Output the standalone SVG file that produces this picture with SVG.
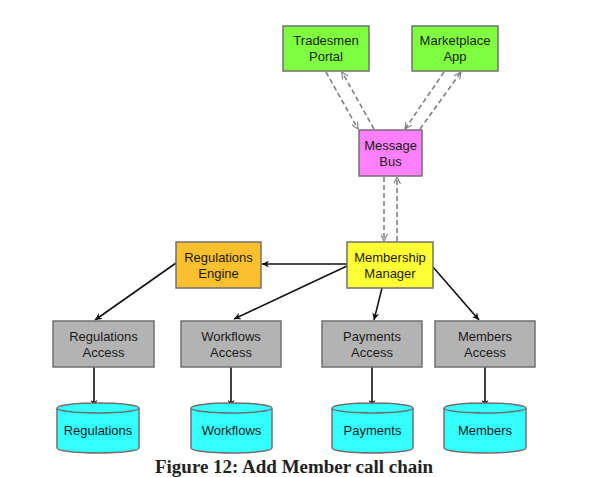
<svg xmlns="http://www.w3.org/2000/svg" width="611" height="477" viewBox="0 0 611 477">
<style>
.box{stroke:#707070;stroke-width:1.5}
.t{font-family:"Liberation Sans",Arial,sans-serif;font-size:13px;fill:#1a1a1a;text-anchor:middle}
.solid{stroke:#111;stroke-width:1.6;fill:none}
.dash{stroke:#808080;stroke-width:1.6;fill:none;stroke-dasharray:5,3}
.cap{font-family:"Liberation Serif","Times New Roman",serif;font-size:18.5px;font-weight:bold;fill:#222;text-anchor:middle}
</style>
<defs>
<marker id="ah" viewBox="0 0 10 10" refX="10" refY="5" markerWidth="7" markerHeight="7" orient="auto" markerUnits="userSpaceOnUse">
<path d="M0,0 L10,5 L0,10 L3,5 z" fill="#111"/>
</marker>
<marker id="ahd" viewBox="0 0 10 10" refX="10" refY="5" markerWidth="7" markerHeight="7" orient="auto" markerUnits="userSpaceOnUse">
<path d="M0,0 L10,5 L0,10" fill="none" stroke="#808080" stroke-width="1.6"/>
</marker>
</defs>
<rect width="611" height="477" fill="#fff"/>
<g id="connectors">
<line class="dash" x1="326" y1="72" x2="358" y2="129" marker-end="url(#ahd)"/>
<line class="dash" x1="374" y1="129" x2="342" y2="72" marker-end="url(#ahd)"/>
<line class="dash" x1="444" y1="72" x2="405" y2="129" marker-end="url(#ahd)"/>
<line class="dash" x1="420" y1="129" x2="461" y2="72" marker-end="url(#ahd)"/>
<line class="dash" x1="384" y1="177" x2="384" y2="241" marker-end="url(#ahd)"/>
<line class="dash" x1="397" y1="241" x2="397" y2="177" marker-end="url(#ahd)"/>
<line class="solid" x1="347" y1="264" x2="262" y2="264" marker-end="url(#ah)"/>
<line class="solid" x1="176" y1="263" x2="95" y2="320" marker-end="url(#ah)"/>
<line class="solid" x1="347" y1="266" x2="234" y2="319" marker-end="url(#ah)"/>
<line class="solid" x1="382" y1="288" x2="374" y2="320" marker-end="url(#ah)"/>
<line class="solid" x1="433" y1="267" x2="479" y2="320" marker-end="url(#ah)"/>
<line class="solid" x1="94" y1="367" x2="94" y2="407" marker-end="url(#ah)"/>
<line class="solid" x1="231" y1="367" x2="231" y2="407" marker-end="url(#ah)"/>
<line class="solid" x1="372" y1="367" x2="372" y2="407" marker-end="url(#ah)"/>
<line class="solid" x1="485" y1="367" x2="485" y2="407" marker-end="url(#ah)"/>
</g>
<g id="tradesmen-portal">
<rect class="box" x="283" y="26" width="86" height="45" fill="#80ff40"/>
<text class="t" x="326" y="45">Tradesmen</text><text class="t" x="326" y="61">Portal</text>
</g>
<g id="marketplace-app">
<rect class="box" x="412" y="26" width="86" height="45" fill="#80ff40"/>
<text class="t" x="455" y="45">Marketplace</text><text class="t" x="455" y="61">App</text>
</g>
<g id="message-bus">
<rect class="box" x="359" y="130" width="63" height="46" fill="#ff80ff"/>
<text class="t" x="390.5" y="150">Message</text><text class="t" x="390.5" y="166">Bus</text>
</g>
<g id="membership-manager">
<rect class="box" x="347" y="242" width="86" height="46" fill="#ffff33"/>
<text class="t" x="390" y="262">Membership</text><text class="t" x="390" y="278">Manager</text>
</g>
<g id="regulations-engine">
<rect class="box" x="176" y="242" width="85" height="46" fill="#fbc02d"/>
<text class="t" x="218.5" y="262">Regulations</text><text class="t" x="218.5" y="278">Engine</text>
</g>
<g id="regulations-access">
<rect class="box" x="53" y="321" width="101" height="46" fill="#b3b3b3"/>
<text class="t" x="103.5" y="341">Regulations</text><text class="t" x="103.5" y="357">Access</text>
</g>
<g id="workflows-access">
<rect class="box" x="181" y="321" width="100" height="46" fill="#b3b3b3"/>
<text class="t" x="231" y="341">Workflows</text><text class="t" x="231" y="357">Access</text>
</g>
<g id="payments-access">
<rect class="box" x="322" y="321" width="100" height="46" fill="#b3b3b3"/>
<text class="t" x="372" y="341">Payments</text><text class="t" x="372" y="357">Access</text>
</g>
<g id="members-access">
<rect class="box" x="435" y="321" width="100" height="46" fill="#b3b3b3"/>
<text class="t" x="485" y="341">Members</text><text class="t" x="485" y="357">Access</text>
</g>
<g id="regulations-db">
<path class="box" d="M57,408 A41,5 0 0 1 139,408 V448 A41,5 0 0 1 57,448 Z" fill="#33ffff"/>
<path class="box" d="M57,408 A41,5 0 0 0 139,408" fill="none"/>
<text class="t" x="98" y="435">Regulations</text>
</g>
<g id="workflows-db">
<path class="box" d="M191,408 A40.5,5 0 0 1 272,408 V448 A40.5,5 0 0 1 191,448 Z" fill="#33ffff"/>
<path class="box" d="M191,408 A40.5,5 0 0 0 272,408" fill="none"/>
<text class="t" x="231.5" y="435">Workflows</text>
</g>
<g id="payments-db">
<path class="box" d="M332,408 A40.5,5 0 0 1 413,408 V448 A40.5,5 0 0 1 332,448 Z" fill="#33ffff"/>
<path class="box" d="M332,408 A40.5,5 0 0 0 413,408" fill="none"/>
<text class="t" x="372.5" y="435">Payments</text>
</g>
<g id="members-db">
<path class="box" d="M444,408 A41,5 0 0 1 526,408 V448 A41,5 0 0 1 444,448 Z" fill="#33ffff"/>
<path class="box" d="M444,408 A41,5 0 0 0 526,408" fill="none"/>
<text class="t" x="485" y="435">Members</text>
</g>
<text class="cap" x="294" y="473" textLength="278" lengthAdjust="spacingAndGlyphs">Figure 12: Add Member call chain</text>
</svg>
